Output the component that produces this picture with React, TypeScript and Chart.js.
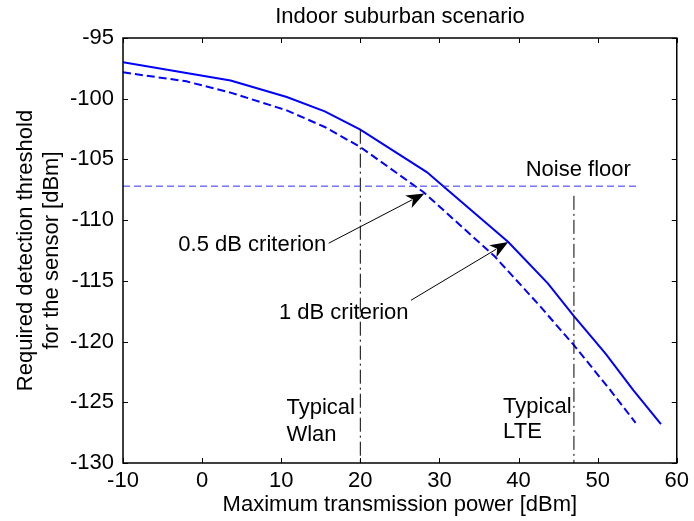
import React, { useEffect, useRef } from 'react';
import { Chart, registerables } from 'chart.js';

Chart.register(...registerables);

// ---- data ----
const solidX = [-10, 3.6, 10.7, 15.5, 20, 28.4, 31, 38.7, 43.7, 47, 51, 54.5, 58];
const solidY = [-97.0, -98.5, -99.86, -101.04, -102.55, -106.04, -107.5, -111.8, -115.2, -117.9, -121.0, -124.0, -126.8];

const dashedX = [-10, -2, 3.6, 10.7, 15.5, 20, 28, 37, 42.6, 47, 51.6, 54.8];
const dashedY = [-97.83, -98.57, -99.5, -100.96, -102.33, -103.98, -107.7, -113.0, -117.0, -120.3, -124.0, -126.7];

const noiseFloorX = [-10, 55];
const noiseFloorY = [-107.2, -107.2];

const wlanX = [20, 20];
const wlanY = [-102.55, -130];

const lteX = [47, 47];
const lteY = [-108, -130];

const xTicks = [-10, 0, 10, 20, 30, 40, 50, 60];
const yTicks = [-130, -125, -120, -115, -110, -105, -100, -95];

const titleText = 'Indoor suburban scenario';
const xTitle = 'Maximum transmission power [dBm]';
const yTitle = ['Required detection threshold', 'for the sensor [dBm]'];

// annotation texts, anchored in data units
const textNotes = [
  { text: 'Noise floor', x: 40.9, y: -105.9, align: 'left' },
  { text: '0.5 dB criterion', x: 15.7, y: -112.07, align: 'right' },
  { text: '1 dB criterion', x: 26.1, y: -117.65, align: 'right' },
  { text: 'Typical', x: 10.66, y: -125.49, align: 'left' },
  { text: 'Wlan', x: 10.66, y: -127.72, align: 'left' },
  { text: 'Typical', x: 38.05, y: -125.39, align: 'left' },
  { text: 'LTE', x: 38.05, y: -127.45, align: 'left' },
];

const arrowNotes = [
  { x0: 16.0, y0: -111.9, x1: 28.1, y1: -107.8 },
  { x0: 26.4, y0: -116.6, x1: 38.7, y1: -111.8 },
];

const FONT = '"Liberation Sans", Arial, Helvetica, sans-serif';
const FS = 22;

const toPts = (xs: number[], ys: number[]) => xs.map((x, i) => ({ x, y: ys[i] }));

const decorPlugin = {
  id: 'decor',
  afterDatasetsDraw(chart: any) {
    const { ctx, chartArea: a, scales } = chart;
    const xs = scales.x;
    const ys = scales.y;
    ctx.save();
    // inner ticks
    ctx.strokeStyle = '#000';
    ctx.lineWidth = 1;
    ctx.setLineDash([]);
    const tl = 5;
    ctx.beginPath();
    xTicks.forEach((v) => {
      const px = Math.round(xs.getPixelForValue(v)) + 0.5;
      ctx.moveTo(px, a.bottom);
      ctx.lineTo(px, a.bottom - tl);
      ctx.moveTo(px, a.top);
      ctx.lineTo(px, a.top + tl);
    });
    yTicks.forEach((v) => {
      const py = Math.round(ys.getPixelForValue(v)) + 0.5;
      ctx.moveTo(a.left, py);
      ctx.lineTo(a.left + tl, py);
      ctx.moveTo(a.right, py);
      ctx.lineTo(a.right - tl, py);
    });
    ctx.stroke();
    // box
    ctx.lineWidth = 1.5;
    ctx.strokeRect(a.left, a.top, a.right - a.left, a.bottom - a.top);

    // texts
    ctx.fillStyle = '#000';
    ctx.font = `${FS}px ${FONT}`;
    ctx.textBaseline = 'middle';
    textNotes.forEach((t) => {
      ctx.textAlign = t.align as CanvasTextAlign;
      ctx.fillText(t.text, xs.getPixelForValue(t.x), ys.getPixelForValue(t.y));
    });

    // arrows
    arrowNotes.forEach((ar) => {
      const x0 = xs.getPixelForValue(ar.x0);
      const y0 = ys.getPixelForValue(ar.y0);
      const x1 = xs.getPixelForValue(ar.x1);
      const y1 = ys.getPixelForValue(ar.y1);
      const ang = Math.atan2(y1 - y0, x1 - x0);
      const L = 18;
      const W = 7;
      const bx = x1 - L * Math.cos(ang);
      const by = y1 - L * Math.sin(ang);
      ctx.lineWidth = 1;
      ctx.beginPath();
      ctx.moveTo(x0, y0);
      ctx.lineTo(bx + 4 * Math.cos(ang), by + 4 * Math.sin(ang));
      ctx.stroke();
      const nx = -Math.sin(ang);
      const ny = Math.cos(ang);
      ctx.beginPath();
      ctx.moveTo(x1, y1);
      ctx.lineTo(bx + nx * W, by + ny * W);
      ctx.lineTo(bx + 5 * Math.cos(ang), by + 5 * Math.sin(ang));
      ctx.lineTo(bx - nx * W, by - ny * W);
      ctx.closePath();
      ctx.fill();
    });
    ctx.restore();
  },
};

export default function App() {
  const ref = useRef<HTMLCanvasElement | null>(null);
  useEffect(() => {
    if (!ref.current) return;
    const chart = new Chart(ref.current, {
      type: 'scatter',
      data: {
        datasets: [
          {
            data: toPts(noiseFloorX, noiseFloorY),
            showLine: true,
            borderColor: '#3030ff',
            borderWidth: 1,
            borderDash: [7, 4],
            pointRadius: 0,
          },
          {
            data: toPts(wlanX, wlanY),
            showLine: true,
            borderColor: '#000',
            borderWidth: 1,
            borderDash: [14, 4, 2, 4],
            pointRadius: 0,
          },
          {
            data: toPts(lteX, lteY),
            showLine: true,
            borderColor: '#000',
            borderWidth: 1,
            borderDash: [14, 4, 2, 4],
            pointRadius: 0,
          },
          {
            data: toPts(solidX, solidY),
            showLine: true,
            borderColor: '#0000ff',
            borderWidth: 2,
            pointRadius: 0,
            tension: 0,
          },
          {
            data: toPts(dashedX, dashedY),
            showLine: true,
            borderColor: '#0000ff',
            borderWidth: 2,
            borderDash: [8, 4],
            pointRadius: 0,
            tension: 0,
          },
        ],
      },
      options: {
        responsive: false,
        animation: false,
        layout: { padding: { top: 0, right: 12, bottom: 0, left: 0 } },
        plugins: {
          legend: { display: false },
          tooltip: { enabled: false },
          title: {
            display: true,
            text: titleText,
            fullSize: false,
            color: '#000',
            font: { family: FONT, size: FS, weight: 'normal', lineHeight: 1.2 },
            padding: { top: 4, bottom: 7.6 },
          },
        },
        scales: {
          x: {
            type: 'linear',
            min: -10,
            max: 60,
            grid: { display: false, drawTicks: false },
            border: { display: false },
            afterBuildTicks: (s: any) => {
              s.ticks = xTicks.map((v) => ({ value: v }));
            },
            afterFit: (s: any) => {
              s.height = 58;
            },
            ticks: {
              color: '#000',
              padding: 5,
              maxRotation: 0,
              autoSkip: false,
              font: { family: FONT, size: FS },
            },
            title: {
              display: true,
              text: xTitle,
              color: '#000',
              font: { family: FONT, size: FS, lineHeight: 1.2 },
              padding: { top: 0, bottom: 3 },
            },
          },
          y: {
            type: 'linear',
            min: -130,
            max: -95,
            grid: { display: false, drawTicks: false },
            border: { display: false },
            afterBuildTicks: (s: any) => {
              s.ticks = yTicks.map((v) => ({ value: v }));
            },
            afterFit: (s: any) => {
              s.width = 123;
            },
            ticks: {
              color: '#000',
              padding: 9,
              autoSkip: false,
              font: { family: FONT, size: FS },
            },
            title: {
              display: true,
              text: yTitle,
              color: '#000',
              font: { family: FONT, size: FS, lineHeight: 1.18 },
              padding: { top: 13, bottom: 0 },
            },
          },
        },
      },
      plugins: [decorPlugin],
    } as any);
    return () => chart.destroy();
  }, []);
  return (
    <div style={{ position: 'absolute', left: 0, top: 0, width: 694, height: 521, background: '#fff' }}>
      <canvas ref={ref} width={694} height={521} />
    </div>
  );
}
